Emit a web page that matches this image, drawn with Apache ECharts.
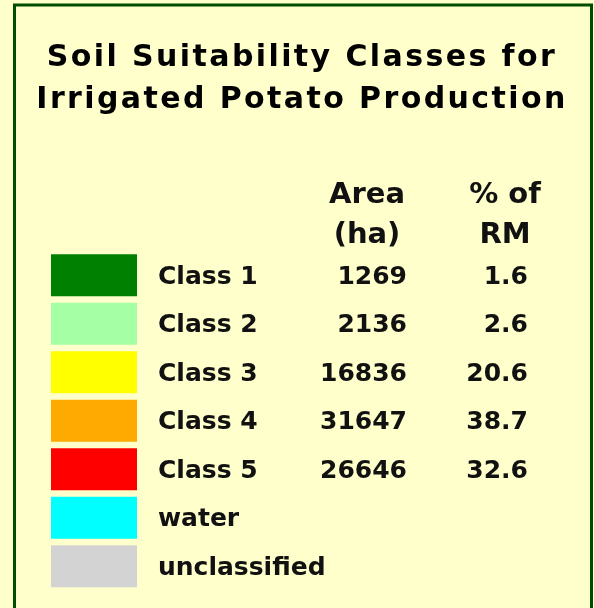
<!DOCTYPE html>
<html>
<head>
<meta charset="utf-8">
<script src="https://cdn.jsdelivr.net/npm/echarts@6/dist/echarts.min.js"></script>
<style>
  html, body { margin: 0; padding: 0; background: #FFFFCC; }
  #chart { width: 594px; height: 608px; }
</style>
</head>
<body>
<div id="chart"></div>
<script>
const titleLines = ['Soil Suitability Classes for', 'Irrigated Potato Production'];
const categories = ['Class 1', 'Class 2', 'Class 3', 'Class 4', 'Class 5', 'water', 'unclassified'];
const areaHa = ['1269', '2136', '16836', '31647', '26646', '', ''];
const pctOfRM = ['1.6', '2.6', '20.6', '38.7', '32.6', '', ''];
const swatchColors = ['#008000', '#A5FFA5', '#FFFF00', '#FFAA00', '#FF0000', '#00FFFF', '#D3D3D3'];
const headerArea = 'Area\n(ha)';
const headerPct = '% of\nRM';

// The reference title is set with wide letter spacing; apply it to the 30px title font only.
(function () {
  const proto = CanvasRenderingContext2D.prototype;
  if (!('letterSpacing' in proto)) return;
  const orig = proto.fillText;
  proto.fillText = function (t, x, y, m) {
    const f = this.font;
    const want = /\b30px\b/.test(f) ? '2.4px' : '0px';
    if (this.letterSpacing !== want) {
      this.letterSpacing = want;
      this.font = f;
    }
    return m === undefined ? orig.call(this, t, x, y) : orig.call(this, t, x, y, m);
  };
})();

const FONT = '"DejaVu Sans", Verdana, sans-serif';
const chart = echarts.init(document.getElementById('chart'), null, { renderer: 'canvas' });

const barData = categories.map((c, i) => ({
  value: 1,
  itemStyle: { color: swatchColors[i] }
}));

const rowText = { fontFamily: FONT, fontWeight: 'bold', fontSize: 25, color: '#111' };

chart.setOption({
  backgroundColor: '#FFFFCC',
  animation: false,
  grid: { left: 51, width: 86, top: 251, height: 339.5 },
  xAxis: { type: 'value', min: 0, max: 1, show: false },
  yAxis: {
    type: 'category',
    data: categories,
    inverse: true,
    show: false
  },
  series: [{
    type: 'bar',
    data: barData,
    barWidth: 42,
    silent: true,
    label: {
      show: true,
      position: 'right',
      distance: 21,
      offset: [0, 2],
      formatter: (p) => '{n|' + categories[p.dataIndex] + '}{a|' + areaHa[p.dataIndex] + '}{p|' + pctOfRM[p.dataIndex] + '}',
      rich: {
        n: Object.assign({ width: 159, align: 'left' }, rowText),
        a: Object.assign({ width: 90, align: 'right' }, rowText),
        p: Object.assign({ width: 121, align: 'right' }, rowText)
      }
    }
  }],
  graphic: [
    {
      type: 'rect',
      shape: { x: 14.5, y: 5, width: 577, height: 640 },
      style: { fill: null, stroke: '#004D00', lineWidth: 3 },
      z: 10
    },
    {
      type: 'text',
      x: 302, y: 79,
      style: {
        text: titleLines.join('\n'), align: 'center', verticalAlign: 'middle',
        fontFamily: FONT, fontWeight: 'bold', fontSize: 30, lineHeight: 42, fill: '#000'
      }
    },
    {
      type: 'text',
      x: 367, y: 175,
      style: {
        text: headerArea, align: 'center', verticalAlign: 'top',
        fontFamily: FONT, fontWeight: 'bold', fontSize: 29, lineHeight: 40, fill: '#111'
      }
    },
    {
      type: 'text',
      x: 505, y: 175,
      style: {
        text: headerPct, align: 'center', verticalAlign: 'top',
        fontFamily: FONT, fontWeight: 'bold', fontSize: 29, lineHeight: 40, fill: '#111'
      }
    }
  ]
});
</script>
</body>
</html>
